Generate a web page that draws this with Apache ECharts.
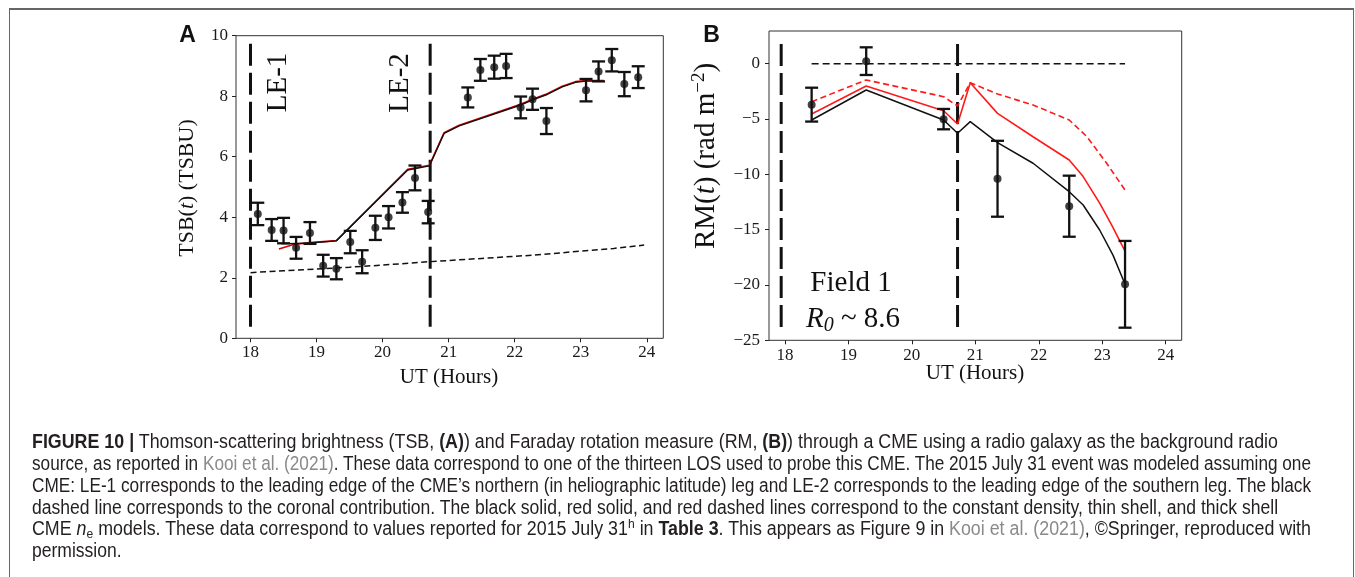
<!DOCTYPE html>
<html><head><meta charset="utf-8">
<script src="https://cdn.jsdelivr.net/npm/echarts@6/dist/echarts.min.js"></script>
<style>
html,body{margin:0;padding:0;background:#fff;}
#wrap{position:relative;width:1355px;height:577px;overflow:hidden;background:#fff;}
#chart{position:absolute;left:0;top:0;width:1355px;height:577px;}
#frame{position:absolute;left:9px;top:8px;width:1345px;height:620px;box-sizing:border-box;border-style:solid;border-color:#666;border-width:2px 1.5px 0 1.5px;pointer-events:none;}
#cap{position:absolute;left:32px;top:431.3px;font-family:"Liberation Sans Narrow","Liberation Sans",Arial,sans-serif;font-size:20px;line-height:21.8px;color:#231f20;}
#cap .ln{white-space:nowrap;height:21.8px;}
#cap .t{display:inline-block;transform-origin:0 50%;}
.lk{color:#8a8a8a;}
#cap b{font-weight:700;}
#cap sub{font-size:68%;vertical-align:-0.22em;line-height:0;}
#cap sup{font-size:68%;vertical-align:0.55em;line-height:0;}
</style>
</head><body>
<div id="wrap">
<div id="chart"></div>
<div id="frame"></div>
<div id="cap">
<div class="ln"><span class="t" data-w="1246"><b>FIGURE 10 |</b> Thomson-scattering brightness (TSB, <b>(A)</b>) and Faraday rotation measure (RM, <b>(B)</b>) through a CME using a radio galaxy as the background radio</span></div>
<div class="ln"><span class="t" data-w="1279">source, as reported in <span class="lk">Kooi et al. (2021)</span>. These data correspond to one of the thirteen LOS used to probe this CME. The 2015 July 31 event was modeled assuming one</span></div>
<div class="ln"><span class="t" data-w="1279">CME: LE-1 corresponds to the leading edge of the CME’s northern (in heliographic latitude) leg and LE-2 corresponds to the leading edge of the southern leg. The black</span></div>
<div class="ln"><span class="t" data-w="1246">dashed line corresponds to the coronal contribution. The black solid, red solid, and red dashed lines correspond to the constant density, thin shell, and thick shell</span></div>
<div class="ln"><span class="t" data-w="1279">CME <i>n</i><sub>e</sub> models. These data correspond to values reported for 2015 July 31<sup>h</sup> in <b>Table 3</b>. This appears as Figure 9 in <span class="lk">Kooi et al. (2021)</span>, ©Springer, reproduced with</span></div>
<div class="ln"><span class="t" data-w="0">permission.</span></div>
</div>
</div>
<script>
// ---------- Panel A: Thomson-scattering brightness ----------
const xTicks = [18, 19, 20, 21, 22, 23, 24];
const tsbTicks = [0, 2, 4, 6, 8, 10];
const rmTicks = [-25, -20, -15, -10, -5, 0];

const tsbTime  = [18.11,18.32,18.50,18.69,18.90,19.10,19.30,19.51,19.69,19.89,20.09,20.30,20.49,20.69,21.29,21.48,21.69,21.87,22.09,22.27,22.48,23.08,23.27,23.47,23.66,23.87];
const tsbValue = [4.11,3.58,3.56,2.99,3.48,2.40,2.30,3.18,2.53,3.65,4.00,4.49,5.30,4.17,7.96,8.87,8.96,9.00,7.63,7.90,7.18,8.20,8.82,9.19,8.40,8.63];
const tsbError = [0.37,0.36,0.42,0.36,0.36,0.36,0.35,0.37,0.38,0.40,0.37,0.34,0.41,0.37,0.33,0.36,0.38,0.40,0.36,0.35,0.43,0.37,0.33,0.37,0.40,0.36];

const tsbConstTime  = [18.47,18.90,19.30,20.38,20.71,20.93,21.16,22.09,22.27,22.47,22.72,22.92,23.08,23.25];
const tsbConstValue = [3.12,3.15,3.22,5.56,5.70,6.77,7.02,7.71,7.88,8.04,8.31,8.46,8.50,8.50];
const tsbThinTime   = [18.43,18.65,18.90,19.30,20.38,20.71,20.93,21.16,22.09,22.27,22.47,22.72,22.92,23.08,23.35];
const tsbThinValue  = [2.95,3.10,3.16,3.23,5.58,5.72,6.79,7.04,7.73,7.90,8.06,8.33,8.48,8.52,8.52];
const coronalTime   = [18.0,18.5,19.0,19.5,20.0,20.7,21.5,22.3,23.0,23.5,23.96];
const coronalValue  = [2.17,2.23,2.29,2.35,2.42,2.53,2.64,2.75,2.88,2.97,3.08];

const leTimeA = [18.0, 20.72];
const leSpanA = [0.38, 9.84];

// ---------- Panel B: Faraday rotation measure ----------
const rmTime  = [18.42,19.28,20.50,21.35,22.48,23.36];
const rmValue = [-3.70,0.23,-5.01,-10.40,-12.88,-19.94];
const rmError = [1.53,1.25,0.92,3.43,2.76,3.92];

const rmConstTime  = [18.42,19.28,20.50,20.72,20.92,21.35,21.91,22.48,22.70,22.96,23.17,23.36];
const rmConstValue = [-5.09,-2.38,-5.09,-6.29,-5.24,-7.14,-9.00,-11.57,-12.77,-15.03,-17.30,-19.94];
const rmThinTime   = [18.42,19.28,20.50,20.72,20.92,21.35,21.91,22.48,22.70,22.96,23.15,23.36];
const rmThinValue  = [-4.55,-2.02,-4.25,-5.45,-1.72,-4.49,-6.60,-8.70,-10.20,-12.60,-14.60,-16.93];
const rmThickTime  = [18.42,19.28,20.50,20.72,20.92,21.35,21.91,22.48,22.76,23.07,23.36];
const rmThickValue = [-3.43,-1.47,-2.98,-3.82,-1.72,-2.74,-3.73,-5.09,-6.60,-9.00,-11.42];
const rmCoronalTime  = [18.42, 23.36];
const rmCoronalValue = [0, 0];

const leTimeB = [17.94, 20.72];
const leSpanB = [-23.8, 2.3];

// ---------- helpers ----------
const zip = (xs, ys) => xs.map((x, i) => [x, ys[i]]);
const errRows = (xs, ys, es) => xs.map((x, i) => [x, ys[i] - es[i], ys[i] + es[i]]);
const serif = '"Liberation Serif","Times New Roman",serif';
const INK = '#111';

function errRender(params, api) {
  const x = api.value(0), lo = api.value(1), hi = api.value(2);
  const p1 = api.coord([x, hi]), p2 = api.coord([x, lo]);
  const hw = 6.5;
  const st = { stroke: INK, lineWidth: 2.3 };
  return { type: 'group', children: [
    { type: 'line', shape: { x1: p1[0], y1: p1[1], x2: p2[0], y2: p2[1] }, style: st },
    { type: 'line', shape: { x1: p1[0] - hw, y1: p1[1], x2: p1[0] + hw, y2: p1[1] }, style: st },
    { type: 'line', shape: { x1: p2[0] - hw, y1: p2[1], x2: p2[0] + hw, y2: p2[1] }, style: st }
  ]};
}

function xAxisDef(gi, min, max, margin) {
  return { gridIndex: gi, type: 'value', min: min, max: max,
    axisLine: { show: false, onZero: false }, splitLine: { show: false },
    axisTick: { show: true, inside: false, length: 4, customValues: xTicks, lineStyle: { color: '#222', width: 1 } },
    axisLabel: { customValues: xTicks, margin: margin, fontFamily: serif, fontSize: 17, color: '#1a1a1a' } };
}
function yAxisDef(gi, min, max, ticks, margin, fmt) {
  return { gridIndex: gi, type: 'value', min: min, max: max,
    axisLine: { show: false, onZero: false }, splitLine: { show: false },
    axisTick: { show: true, inside: false, length: 4, customValues: ticks, lineStyle: { color: '#222', width: 1 } },
    axisLabel: { customValues: ticks, margin: margin, fontFamily: serif, fontSize: 17, color: '#1a1a1a', formatter: fmt } };
}
function lineS(xi, data, color, width, type, z) {
  return { type: 'line', xAxisIndex: xi, yAxisIndex: xi, data: data, showSymbol: false, symbol: 'none',
    lineStyle: { color: color, width: width, type: type || 'solid', cap: 'butt' }, z: z || 2, silent: true };
}

const series = [];
// Panel A
series.push(lineS(0, zip(coronalTime, coronalValue), INK, 1.5, [6, 3.5], 2));
leTimeA.forEach(t => series.push(lineS(0, [[t, leSpanA[0]], [t, leSpanA[1]]], INK, 3, [22, 7], 2)));
series.push(lineS(0, zip(tsbThinTime, tsbThinValue), '#e00000', 1.7, 'solid', 3));
series.push(lineS(0, zip(tsbConstTime, tsbConstValue), INK, 1.4, 'solid', 4));
series.push({ type: 'custom', xAxisIndex: 0, yAxisIndex: 0, renderItem: errRender,
  data: errRows(tsbTime, tsbValue, tsbError), encode: { x: 0, y: [1, 2] }, z: 5, silent: true });
series.push({ type: 'scatter', xAxisIndex: 0, yAxisIndex: 0, data: zip(tsbTime, tsbValue),
  symbol: 'circle', symbolSize: 8, itemStyle: { color: INK }, z: 6, silent: true });
// Panel B
series.push(lineS(1, zip(rmCoronalTime, rmCoronalValue), INK, 1.5, [7, 4], 2));
leTimeB.forEach(t => series.push(lineS(1, [[t, leSpanB[0]], [t, leSpanB[1]]], INK, 3, [22, 7], 2)));
series.push(lineS(1, zip(rmThickTime, rmThickValue), '#ff1a1a', 1.6, [6, 3.5], 3));
series.push(lineS(1, zip(rmThinTime, rmThinValue), '#ff1a1a', 1.6, 'solid', 3));
series.push(lineS(1, zip(rmConstTime, rmConstValue), INK, 1.5, 'solid', 4));
series.push({ type: 'custom', xAxisIndex: 1, yAxisIndex: 1, renderItem: errRender,
  data: errRows(rmTime, rmValue, rmError), encode: { x: 0, y: [1, 2] }, z: 5, silent: true });
series.push({ type: 'scatter', xAxisIndex: 1, yAxisIndex: 1, data: zip(rmTime, rmValue),
  symbol: 'circle', symbolSize: 8, itemStyle: { color: INK }, z: 6, silent: true });

function txt(x, y, text, opts) {
  const st = Object.assign({ text: text, fill: INK, align: 'center', verticalAlign: 'middle',
    textAlign: 'center', textVerticalAlign: 'middle' }, opts.style || {});
  return { type: 'text', x: x, y: y, rotation: opts.rotation || 0, z: 100, silent: true, style: st };
}

const graphic = [
  txt(187.5, 36, 'A', { style: { font: 'bold 23px "Liberation Sans", Arial, sans-serif' } }),
  txt(711.5, 36, 'B', { style: { font: 'bold 23px "Liberation Sans", Arial, sans-serif' } }),
  txt(278, 82.5, 'LE-1', { rotation: Math.PI / 2, style: { font: '29px ' + serif } }),
  txt(400, 83, 'LE-2', { rotation: Math.PI / 2, style: { font: '29px ' + serif } }),
  txt(187, 188, '{n|TSB(}{i|t}{n|) (TSBU)}', { rotation: Math.PI / 2, style: { font: '22px ' + serif,
    rich: { n: { font: '22px ' + serif, fill: INK }, i: { font: 'italic 22px ' + serif, fill: INK } } } }),
  txt(449, 377, 'UT (Hours)', { style: { font: '21px ' + serif } }),
  txt(706, 156, '{n|RM(}{i|t}{n|) (rad m}{s|−2}{n|)}', { rotation: Math.PI / 2, style: { font: '29px ' + serif,
    rich: { n: { font: '29px ' + serif, fill: INK, lineHeight: 33 }, i: { font: 'italic 29px ' + serif, fill: INK, lineHeight: 33 },
            s: { font: '19px ' + serif, fill: INK, verticalAlign: 'top', lineHeight: 19 } } } }),
  txt(975, 373, 'UT (Hours)', { style: { font: '21px ' + serif } }),
  txt(851, 283, 'Field 1', { style: { font: '29px ' + serif } }),
  txt(853, 319, '{r|R}{s|0}{n| ~ 8.6}', { style: { font: '29px ' + serif,
    rich: { r: { font: 'italic 29px ' + serif, fill: INK, lineHeight: 34 }, n: { font: '29px ' + serif, fill: INK, lineHeight: 34 },
            s: { font: 'italic 20px ' + serif, fill: INK, verticalAlign: 'bottom', lineHeight: 20 } } } })
];

const option = {
  animation: false,
  backgroundColor: 'transparent',
  grid: [
    { left: 236, top: 35.7, width: 427.3, height: 302.6, show: true, borderColor: '#333', borderWidth: 1, backgroundColor: 'transparent', containLabel: false, outerBoundsMode: 'none' },
    { left: 769, top: 31, width: 412.7, height: 309.3, show: true, borderColor: '#333', borderWidth: 1, backgroundColor: 'transparent', containLabel: false, outerBoundsMode: 'none' }
  ],
  xAxis: [ xAxisDef(0, 17.78, 24.25, 6), xAxisDef(1, 17.748, 24.253, 7) ],
  yAxis: [
    yAxisDef(0, 0, 10, tsbTicks, 8, v => String(v)),
    yAxisDef(1, -25, 2.955, rmTicks, 9, v => (v < 0 ? '\u2212' + Math.abs(v) : String(v)))
  ],
  series: series,
  graphic: graphic
};

const chart = echarts.init(document.getElementById('chart'), null, { renderer: 'canvas' });
chart.setOption(option);

// fit caption lines to their measured widths in the reference
let factors = [];
const spans = Array.from(document.querySelectorAll('#cap .t'));
spans.forEach(el => {
  const w = el.getBoundingClientRect().width;
  const target = parseFloat(el.getAttribute('data-w'));
  if (w > 0 && target > 0) { const f = target / w; factors.push(f); el.style.transform = 'scaleX(' + f.toFixed(4) + ')'; }
});
const avg = factors.reduce((a, b) => a + b, 0) / Math.max(1, factors.length);
spans.forEach(el => { if (parseFloat(el.getAttribute('data-w')) === 0) el.style.transform = 'scaleX(' + avg.toFixed(4) + ')'; });
</script>
</body></html>
